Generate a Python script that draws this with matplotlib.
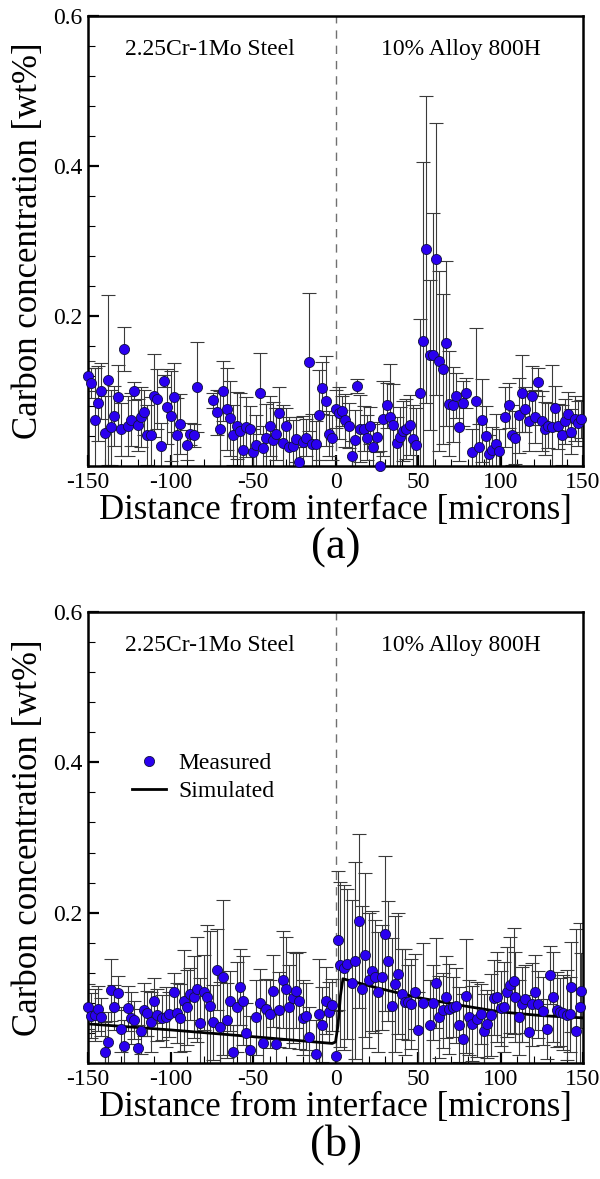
import numpy as np
import matplotlib
matplotlib.use("Agg")
import matplotlib.pyplot as plt
from matplotlib.ticker import MultipleLocator, FixedLocator

plt.rcParams['font.family'] = ['Liberation Serif', 'DejaVu Serif']
plt.rcParams['axes.unicode_minus'] = False

# ---- panel (a): measured only ----
xa = [-150, -148, -146, -144, -142, -140, -138, -136, -134, -132, -130, -128, -126, -124,
      -122, -120, -118, -116, -114, -112, -110, -108, -106, -104, -102, -100, -98, -96,
      -94, -90, -88, -86, -84, -74, -72, -70, -68, -66, -64, -62, -60, -58, -56, -54,
      -52, -50, -48, -46, -44, -42, -40, -38, -36, -34, -32, -30, -28, -26, -24, -22,
      -20, -18, -16, -14, -12, -10, -8, -6, -4, -2, 0, 2, 4, 6, 8, 10, 12, 13, 15, 17,
      19, 21, 23, 25, 27, 29, 31, 33, 35, 37, 39, 41, 43, 45, 47, 49, 51, 53, 55, 57,
      59, 61, 63, 65, 67, 69, 71, 73, 75, 77, 79, 83, 85, 87, 89, 91, 93, 95, 97, 99,
      103, 105, 107, 109, 111, 113, 115, 117, 119, 121, 123, 125, 127, 129, 131, 133,
      135, 137, 139, 141, 143, 145, 147, 149]
ya = [0.120, 0.111, 0.061, 0.084, 0.100, 0.044, 0.115, 0.052, 0.067, 0.092, 0.049, 0.156,
      0.053, 0.062, 0.100, 0.055, 0.065, 0.072, 0.041, 0.042, 0.094, 0.090, 0.027, 0.114,
      0.079, 0.067, 0.092, 0.041, 0.056, 0.028, 0.043, 0.041, 0.106, 0.088, 0.072, 0.050,
      0.100, 0.076, 0.064, 0.041, 0.054, 0.047, 0.022, 0.052, 0.050, 0.019, 0.028, 0.097,
      0.024, 0.038, 0.053, 0.035, 0.043, 0.071, 0.031, 0.053, 0.025, 0.027, 0.036, 0.006,
      0.032, 0.038, 0.139, 0.029, 0.030, 0.068, 0.104, 0.087, 0.043, 0.038, 0.076, 0.071,
      0.074, 0.061, 0.054, 0.013, 0.035, 0.107, 0.050, 0.050, 0.038, 0.054, 0.026, 0.039,
      0.000, 0.063, 0.081, 0.066, 0.055, 0.031, 0.039, 0.047, 0.049, 0.055, 0.036, 0.028,
      0.098, 0.167, 0.289, 0.148, 0.148, 0.276, 0.140, 0.129, 0.164, 0.083, 0.082, 0.094,
      0.052, 0.084, 0.097, 0.019, 0.087, 0.026, 0.061, 0.040, 0.016, 0.022, 0.029, 0.020,
      0.065, 0.081, 0.042, 0.038, 0.068, 0.097, 0.076, 0.060, 0.094, 0.066, 0.112, 0.060,
      0.050, 0.054, 0.052, 0.077, 0.053, 0.042, 0.060, 0.069, 0.046, 0.063, 0.057, 0.063]
ea = [0.020, 0.020, 0.070, 0.050, 0.037, 0.050, 0.113, 0.050, 0.040, 0.043, 0.035, 0.029,
      0.040, 0.035, 0.012, 0.035, 0.040, 0.030, 0.040, 0.050, 0.055, 0.040, 0.030, 0.008,
      0.050, 0.060, 0.046, 0.050, 0.040, 0.020, 0.015, 0.015, 0.060, 0.010, 0.030, 0.050,
      0.040, 0.055, 0.050, 0.040, 0.045, 0.050, 0.030, 0.040, 0.030, 0.030, 0.040, 0.054,
      0.030, 0.045, 0.040, 0.050, 0.035, 0.035, 0.050, 0.025, 0.040, 0.035, 0.030, 0.020,
      0.035, 0.025, 0.092, 0.040, 0.030, 0.060, 0.035, 0.060, 0.030, 0.030, 0.025, 0.035,
      0.020, 0.035, 0.030, 0.020, 0.040, 0.009, 0.045, 0.030, 0.030, 0.025, 0.030, 0.020,
      0.020, 0.050, 0.030, 0.070, 0.055, 0.035, 0.040, 0.040, 0.040, 0.040, 0.045, 0.050,
      0.098, 0.239, 0.205, 0.100, 0.190, 0.181, 0.120, 0.100, 0.110, 0.070, 0.050, 0.030,
      0.045, 0.030, 0.020, 0.030, 0.097, 0.030, 0.055, 0.040, 0.025, 0.030, 0.040, 0.030,
      0.040, 0.030, 0.040, 0.035, 0.050, 0.051, 0.030, 0.040, 0.039, 0.035, 0.019, 0.040,
      0.035, 0.030, 0.083, 0.030, 0.030, 0.040, 0.030, 0.030, 0.030, 0.030, 0.030, 0.025]

# ---- panel (b): measured + simulated ----
xb = [-150, -148, -146, -144, -142, -140, -138, -136, -134, -132, -130, -128, -126, -124,
      -122, -120, -118, -116, -114, -112, -110, -108, -105, -103, -101, -98, -96, -94,
      -92, -90, -88, -86, -84, -82, -80, -78, -76, -74, -72, -70, -68, -66, -64, -62,
      -60, -58, -56, -54, -52, -48, -46, -44, -42, -40, -38, -36, -34, -32, -30, -28,
      -26, -24, -22, -20, -18, -16, -12, -10, -8, -6, -4, -2, 0, 1.5, 3, 5, 7, 10, 12,
      14, 16, 18, 20, 22, 24, 26, 28, 30, 32, 34, 36, 38, 40, 42, 44, 46, 48, 50, 53,
      57, 59, 61, 63, 65, 67, 69, 71, 73, 75, 77, 79, 81, 83, 86, 88, 90, 92, 94, 96,
      98, 100, 102, 104, 106, 108, 109, 111, 113, 115, 117, 119, 121, 123, 126, 128,
      130, 132, 134, 136, 138, 140, 142, 143, 146, 148, 149]
yb = [0.075, 0.063, 0.064, 0.072, 0.061, 0.014, 0.028, 0.097, 0.074, 0.093, 0.045, 0.022,
      0.073, 0.060, 0.057, 0.020, 0.042, 0.071, 0.066, 0.055, 0.083, 0.064, 0.060, 0.061,
      0.065, 0.095, 0.067, 0.060, 0.083, 0.074, 0.092, 0.088, 0.098, 0.053, 0.094, 0.088,
      0.076, 0.054, 0.124, 0.048, 0.114, 0.057, 0.083, 0.015, 0.075, 0.101, 0.083, 0.040,
      0.017, 0.061, 0.080, 0.027, 0.072, 0.065, 0.096, 0.025, 0.071, 0.111, 0.099, 0.075,
      0.087, 0.096, 0.083, 0.060, 0.062, 0.035, 0.012, 0.065, 0.051, 0.083, 0.068, 0.077,
      0.009, 0.163, 0.131, 0.127, 0.132, 0.107, 0.136, 0.189, 0.099, 0.144, 0.110, 0.122,
      0.115, 0.094, 0.114, 0.172, 0.136, 0.076, 0.105, 0.119, 0.092, 0.081, 0.081, 0.079,
      0.095, 0.044, 0.080, 0.051, 0.080, 0.106, 0.061, 0.070, 0.088, 0.072, 0.074, 0.076,
      0.051, 0.032, 0.089, 0.061, 0.052, 0.058, 0.065, 0.042, 0.052, 0.064, 0.087, 0.088,
      0.073, 0.075, 0.094, 0.104, 0.109, 0.088, 0.061, 0.078, 0.085, 0.041, 0.078, 0.094,
      0.078, 0.069, 0.045, 0.117, 0.088, 0.071, 0.068, 0.067, 0.064, 0.065, 0.101, 0.042,
      0.074, 0.096]
eb = [0.030, 0.030, 0.035, 0.030, 0.025, 0.040, 0.040, 0.041, 0.030, 0.023, 0.030, 0.035,
      0.030, 0.035, 0.025, 0.030, 0.030, 0.035, 0.030, 0.040, 0.030, 0.035, 0.030, 0.040,
      0.030, 0.025, 0.040, 0.045, 0.067, 0.050, 0.035, 0.055, 0.070, 0.060, 0.050, 0.096,
      0.100, 0.050, 0.054, 0.060, 0.103, 0.050, 0.040, 0.035, 0.060, 0.051, 0.059, 0.040,
      0.045, 0.050, 0.045, 0.050, 0.040, 0.045, 0.048, 0.040, 0.050, 0.064, 0.069, 0.055,
      0.060, 0.050, 0.065, 0.050, 0.045, 0.040, 0.045, 0.074, 0.050, 0.045, 0.040, 0.035,
      0.060, 0.093, 0.110, 0.110, 0.100, 0.110, 0.131, 0.116, 0.110, 0.109, 0.090, 0.080,
      0.075, 0.080, 0.070, 0.103, 0.080, 0.090, 0.090, 0.081, 0.060, 0.070, 0.050, 0.060,
      0.050, 0.050, 0.080, 0.060, 0.050, 0.060, 0.055, 0.050, 0.055, 0.060, 0.040, 0.050,
      0.050, 0.060, 0.076, 0.050, 0.050, 0.050, 0.040, 0.050, 0.045, 0.055, 0.050, 0.060,
      0.050, 0.060, 0.060, 0.064, 0.070, 0.060, 0.050, 0.050, 0.045, 0.050, 0.055, 0.050,
      0.045, 0.045, 0.040, 0.039, 0.060, 0.050, 0.045, 0.050, 0.060, 0.050, 0.060, 0.136,
      0.112, 0.050]

x_sim = [-150, -100, -50, -2, 0, 1.5, 3, 4.5, 25, 50, 75, 100, 125, 150]
y_sim = [0.052, 0.044, 0.035, 0.026, 0.028, 0.050, 0.090, 0.112, 0.100, 0.087, 0.077,
         0.068, 0.063, 0.060]

fig = plt.figure(figsize=(6, 11.79), dpi=100)
ax_a = fig.add_axes([0.1467, 0.6047, 0.825, 0.3817])
ax_b = fig.add_axes([0.1467, 0.0984, 0.825, 0.3825])


def draw_panel(ax, x, y, err, letter):
    ax.errorbar(x, y, yerr=err, fmt='none', ecolor='#3a3a3a', elinewidth=0.8,
                capsize=5, capthick=0.8, zorder=2)
    ax.plot(x, y, 'o', color='#2a00f0', markeredgecolor='#101040', markeredgewidth=0.6,
            markersize=7.3, label='Measured', zorder=4, clip_on=False)
    ax.axvline(0, color='#707070', linestyle=(0, (6, 5)), linewidth=1.0, zorder=1)
    ax.set_xlim(-150, 150)
    ax.set_ylim(0, 0.6)
    ax.xaxis.set_major_locator(MultipleLocator(50))
    ax.xaxis.set_minor_locator(MultipleLocator(10))
    ax.yaxis.set_major_locator(FixedLocator([0.2, 0.4, 0.6]))
    ax.yaxis.set_minor_locator(MultipleLocator(0.04))
    ax.tick_params(which='both', direction='in', top=False, right=False, labelsize=17)
    ax.tick_params(which='major', length=8, width=1.6, pad=4)
    ax.tick_params(which='minor', length=5, width=0.8)
    for s in ax.spines.values():
        s.set_linewidth(1.8)
    ax.text(-76, 0.556, '2.25Cr-1Mo Steel', ha='center', va='center', fontsize=17)
    ax.text(76, 0.556, '10% Alloy 800H', ha='center', va='center', fontsize=17)
    ax.set_xlabel('Distance from interface [microns]', fontsize=25, labelpad=1)
    ax.set_ylabel('Carbon concentration [wt%]', fontsize=25, labelpad=6)
    bb = ax.get_position()
    fig.text(0.5 * (bb.x0 + bb.x1), bb.y0 - 0.069, letter, ha='center', va='center',
             fontsize=32)


draw_panel(ax_a, xa, ya, ea, '(a)')
draw_panel(ax_b, xb, yb, eb, '(b)')
ax_b.plot(x_sim, y_sim, color='black', linewidth=2, label='Simulated', zorder=3)
ax_b.legend(loc='upper left', bbox_to_anchor=(0.07, 0.71), frameon=False, fontsize=17,
            handlelength=1.45, handletextpad=0.5, labelspacing=0.3, borderaxespad=0)

fig.savefig('out.png', dpi=100)
